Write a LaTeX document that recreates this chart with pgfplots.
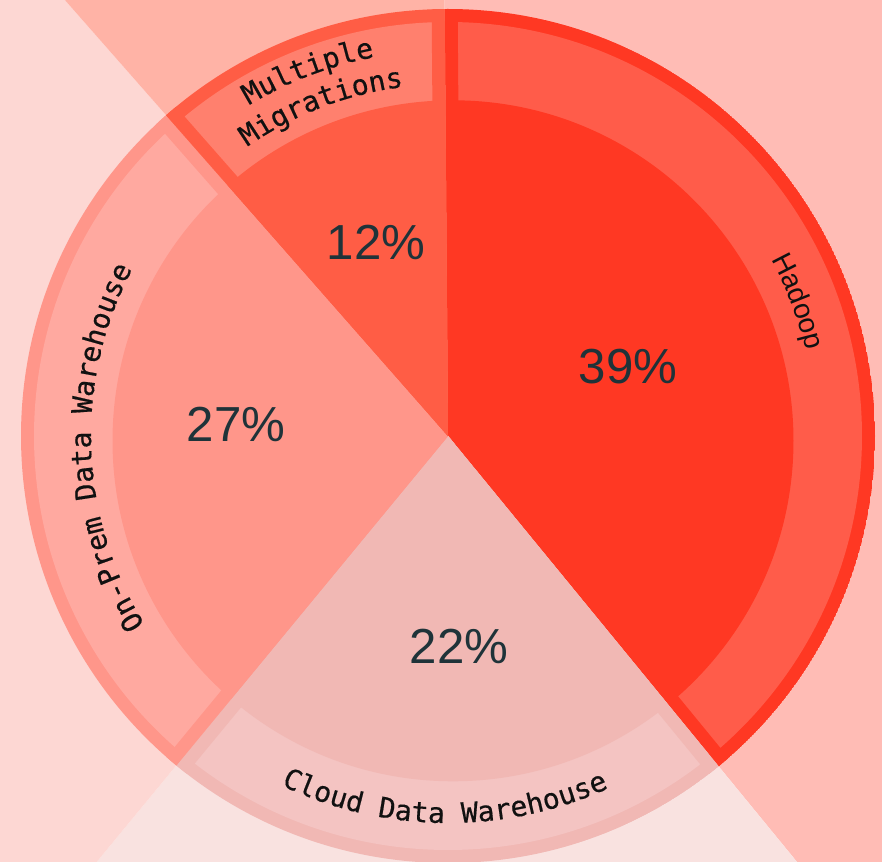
\documentclass[border=0pt]{standalone}
\usepackage{pgfplots}
\pgfplotsset{compat=1.18}
\usepackage{pgfplotstable}
\usepackage{fontspec}
\setmainfont{Liberation Sans}
\newfontfamily\monof[FakeBold=0.5]{DejaVu Sans Mono}
\usetikzlibrary{calc,decorations.text}

\definecolor{hBg}{HTML}{FFBCB5}
\definecolor{mBg}{HTML}{FFB3A6}
\definecolor{oBg}{HTML}{FDD7D3}
\definecolor{cBg}{HTML}{F9E2E0}
\definecolor{hMain}{HTML}{FF3823}
\definecolor{hRing}{HTML}{FF5C4A}
\definecolor{mMain}{HTML}{FF5D45}
\definecolor{mRing}{HTML}{FF806E}
\definecolor{oMain}{HTML}{FF968A}
\definecolor{oRing}{HTML}{FFA9A0}
\definecolor{cMain}{HTML}{F1B8B4}
\definecolor{cRing}{HTML}{F4C4C2}
\definecolor{pct}{HTML}{1F3339}
\definecolor{lab}{HTML}{111111}

% share of each slice (percent), clockwise from the top
\pgfplotstableread{
label value
Hadoop 39.2
CloudDW 21.9
OnPremDW 27.55
Multiple 11.35
}\piedata
\pgfplotstablegetelem{0}{value}\of\piedata \pgfmathsetmacro\vA{\pgfplotsretval}
\pgfplotstablegetelem{1}{value}\of\piedata \pgfmathsetmacro\vB{\pgfplotsretval}
\pgfplotstablegetelem{2}{value}\of\piedata \pgfmathsetmacro\vC{\pgfplotsretval}
\pgfplotstablegetelem{3}{value}\of\piedata \pgfmathsetmacro\vD{\pgfplotsretval}
\pgfmathsetmacro\aO{90.45}
\pgfmathsetmacro\aA{\aO-3.6*\vA}
\pgfmathsetmacro\aB{\aA-3.6*\vB}
\pgfmathsetmacro\aC{\aB-3.6*\vC}
\pgfmathsetmacro\aD{\aC-3.6*\vD}

\newcommand\bgsector[3]{%
  \fill[#3] (C) -- ($(C)+(#1:20cm)$) arc[start angle=#1, end angle=#2, radius=20cm] -- cycle;}
\newcommand\piesector[4]{%
  \begin{scope}
    \clip (C) -- ($(C)+(#1:6cm)$) arc[start angle=#1, end angle=#2, radius=6cm] -- cycle;
    \clip (C) circle[radius=4.27cm];
    \fill[#3] (C) circle[radius=4.27cm];
    \fill[#4] (C) circle[radius=4.14cm];
    \fill[#3] (D) circle[radius=3.405cm];
    \draw[#3, line width=0.26cm] (C) -- ($(C)+(#1:5cm)$);
    \draw[#3, line width=0.26cm] (C) -- ($(C)+(#2:5cm)$);
  \end{scope}}

\begin{document}
\begin{tikzpicture}
\begin{axis}[
  width=8.82cm, height=8.62cm, scale only axis,
  xmin=0, xmax=882, ymin=0, ymax=862,
  hide axis, clip=true,
]
\coordinate (C) at (axis cs:448,426);
\coordinate (D) at (axis cs:453,421.2);
% background wedges
\bgsector{\aO}{\aA}{hBg}
\bgsector{\aA}{\aB}{cBg}
\bgsector{\aB}{\aC}{oBg}
\bgsector{\aC}{\aD}{mBg}
% pie slices
\piesector{\aO}{\aA}{hMain}{hRing}
\piesector{\aA}{\aB}{cMain}{cRing}
\piesector{\aB}{\aC}{oMain}{oRing}
\piesector{\aC}{\aD}{mMain}{mRing}
% percentages
\node[text=pct, font=\fontsize{14}{16}\selectfont] at (axis cs:628,495.5) {39\%};
\node[text=pct, font=\fontsize{14}{16}\selectfont] at (axis cs:376,619.5) {12\%};
\node[text=pct, font=\fontsize{14}{16}\selectfont] at (axis cs:236,437.5) {27\%};
\node[text=pct, font=\fontsize{14}{16}\selectfont] at (axis cs:459,216) {22\%};
% ring labels
\path[decorate, decoration={text along path, text align=center, text color=lab,
  text={|\fontsize{8}{9}\selectfont|Hadoop}}]
  ($(C)+(45:3.68cm)$) arc[start angle=45, end angle=-3, radius=3.68cm];
\path[decorate, decoration={text along path, text align=center, text color=lab,
  text={|\monof\fontsize{8}{9}\selectfont|Cloud Data Warehouse}}]
  ($(C)+(-126:3.87cm)$) arc[start angle=-126, end angle=-55, radius=3.87cm];
\path[decorate, decoration={text along path, text align=center, text color=lab,
  text={|\monof\fontsize{8}{9}\selectfont|On-Prem Data Warehouse}}]
  ($(C)+(225:3.57cm)$) arc[start angle=225, end angle=139, radius=3.57cm];
\path[decorate, decoration={text along path, text align=center, text color=lab,
  text={|\monof\fontsize{8}{9}\selectfont|Multiple}}]
  ($(C)+(131:3.86cm)$) arc[start angle=131, end angle=91, radius=3.86cm];
\path[decorate, decoration={text along path, text align=center, text color=lab,
  text={|\monof\fontsize{8}{9}\selectfont|Migrations}}]
  ($(C)+(131:3.52cm)$) arc[start angle=131, end angle=91, radius=3.52cm];
\end{axis}
\pgfresetboundingbox
\useasboundingbox (current axis.south west) rectangle (current axis.north east);
\end{tikzpicture}
\end{document}
